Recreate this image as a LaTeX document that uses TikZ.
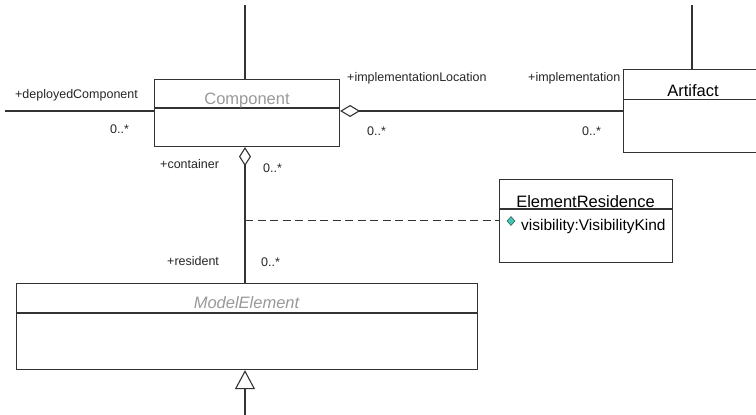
\documentclass[tikz,border=0pt]{standalone}
\usepackage{fontspec}
\setmainfont{Liberation Sans}
\usetikzlibrary{arrows.meta}
\definecolor{linegray}{HTML}{333333}
\definecolor{namegray}{HTML}{999999}
\definecolor{attrteal}{HTML}{3CC8B4}
\tikzset{
  classbox/.style={draw=linegray, line width=1.1pt, rectangle, anchor=north west, inner sep=0pt},
  conn/.style={draw=linegray, line width=1.1pt},
  role/.style={anchor=base west, inner sep=0pt, font=\fontsize{12.5}{14}\selectfont, text=black!85},
  cname/.style={anchor=base, inner sep=0pt, font=\fontsize{16.5}{19}\selectfont},
  aggr/.style={{Diamond[open, length=20pt, width=12pt, line width=1.1pt]}-},
  aggrv/.style={{Diamond[open, length=19pt, width=12pt, line width=1.1pt]}-},
  gen/.style={-{Triangle[open, length=19pt, width=20pt, line width=1.1pt]}},
}
\begin{document}
\begin{tikzpicture}[x=1pt, y=-1pt]
\clip (0,0) rectangle (756,415);
\fill[white] (0,0) rectangle (756,415);

% class boxes
\node[classbox, minimum width=185pt, minimum height=67pt] (comp) at (154,79) {};
\node[classbox, minimum width=150pt, minimum height=83pt] (art) at (623,69) {};
\node[classbox, minimum width=173pt, minimum height=83pt] (res) at (499,179) {};
\node[classbox, minimum width=461pt, minimum height=86pt] (me) at (16,283) {};

% compartment separators
\draw[conn] (comp.west |- 0,108) -- (comp.east |- 0,108);
\draw[conn] (art.west |- 0,99.5) -- (art.east |- 0,99.5);
\draw[conn] (res.west |- 0,209) -- (res.east |- 0,209);
\draw[conn] (me.west |- 0,313) -- (me.east |- 0,313);

% class names
\node[cname, text=namegray] (compname) at (247,104) {Component};
\node[cname] (artname) at (693,96) {Artifact};
\node[cname] (resname) at (585.5,207) {ElementResidence};
\node[cname, text=namegray, font=\fontsize{16.5}{19}\selectfont\itshape] (mename) at (246.5,308) {ModelElement};

% attribute of ElementResidence
\node[anchor=base west, inner sep=0pt, font=\fontsize{15.5}{18}\selectfont] (resattr) at (521,230) {visibility:VisibilityKind};
\fill[attrteal, draw=linegray, line width=0.4pt] (511,216.5) -- (515,221) -- (511,225.5) -- (507,221) -- cycle;

% connector end points
\coordinate (ctop) at (245,5);
\coordinate (atop) at (692,5);
\coordinate (dcend) at (5,111);
\coordinate (genend) at (245,415);
\coordinate (dashstart) at (245,220);

% associations
\draw[conn] (ctop) -- (ctop |- comp.north);
\draw[conn] (atop) -- (atop |- art.north);
\draw[conn] (dcend) -- (dcend -| comp.west);
\draw[conn, aggr] (comp.east |- 0,111) -- (art.west |- 0,111);
\draw[conn, aggrv] (ctop |- comp.south) -- (ctop |- me.north);
\draw[conn, gen] (genend) -- (genend |- me.south);
\draw[conn, dashed, dash pattern=on 8pt off 4.5pt, line width=1pt] (dashstart) -- (dashstart -| res.west);

% role names and multiplicities
\node[role] (r1) at (15,98) {+deployedComponent};
\node[role] (m1) at (110,133) {0..*};
\node[role] (r2) at (347,81) {+implementationLocation};
\node[role] (m2) at (367,135) {0..*};
\node[role] (r3) at (528,81) {+implementation};
\node[role] (m3) at (582,135) {0..*};
\node[role] (r4) at (160,168) {+container};
\node[role] (m4) at (263,172) {0..*};
\node[role] (r5) at (167,265) {+resident};
\node[role] (m5) at (261,266) {0..*};
\end{tikzpicture}
\end{document}
